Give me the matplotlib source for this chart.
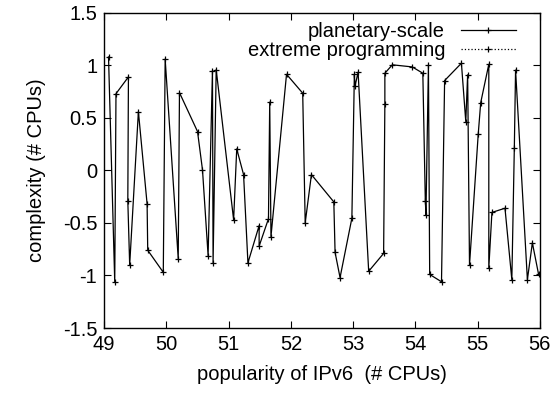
import matplotlib
matplotlib.use("Agg")
import matplotlib.pyplot as plt

plt.rcParams['font.family'] = ['Liberation Sans', 'DejaVu Sans']

# planetary-scale series
planetary_x = [49.07, 49.17, 49.19, 49.39, 49.38, 49.41, 49.55, 49.69, 49.70, 49.95,
               49.98, 50.19, 50.21, 50.50, 50.58, 50.67, 50.74, 50.75, 50.80, 51.08,
               51.13, 51.24, 51.31, 51.49, 51.49, 51.64, 51.66, 51.68, 51.93, 52.19,
               52.23, 52.33, 52.69, 52.71, 52.79, 52.98, 53.02, 53.03, 53.08, 53.25,
               53.49, 53.51, 53.51, 53.63, 53.95, 54.12, 54.16, 54.17, 54.21, 54.23,
               54.42, 54.47, 54.74, 54.81, 54.84, 54.87, 55.01, 55.05, 55.18, 55.18,
               55.23, 55.44, 55.55, 55.59, 55.61, 55.80, 55.88, 55.98]
planetary_y = [1.08, -1.06, 0.73, 0.89, -0.29, -0.90, 0.56, -0.32, -0.76, -0.97,
               1.06, -0.84, 0.74, 0.37, 0.005, -0.81, 0.95, -0.88, 0.96, -0.47,
               0.205, -0.04, -0.88, -0.525, -0.72, -0.46, 0.65, -0.63, 0.915, 0.735,
               -0.50, -0.04, -0.30, -0.78, -1.02, -0.455, 0.915, 0.80, 0.935, -0.96,
               -0.79, 0.63, 0.925, 1.005, 0.985, 0.925, -0.29, -0.42, 1.005, -0.99,
               -1.06, 0.855, 1.02, 0.465, 0.91, -0.90, 0.345, 0.645, 1.01, -0.93,
               -0.40, -0.36, -1.04, 0.21, 0.955, -1.04, -0.69, -0.99]

# extreme programming series: no visible points in the reference
extreme_x = []
extreme_y = []

xticks = [49, 50, 51, 52, 53, 54, 55, 56]
yticks = [-1.5, -1, -0.5, 0, 0.5, 1, 1.5]
ytick_labels = ['-1.5', '-1', '-0.5', '0', '0.5', '1', '1.5']

fs = 14.5

fig = plt.figure(figsize=(5.6, 3.94), dpi=100)
ax = fig.add_axes([0.186, 0.1675, 0.778, 0.8])

ax.plot(planetary_x, planetary_y, color='black', lw=0.9, marker='+', ms=4.5,
        mew=0.9, label='planetary-scale')
ax.plot(extreme_x, extreme_y, color='black', lw=0.9, ls=':', marker='+', ms=4.5,
        mew=0.9, label='extreme programming')

ax.set_xlim(49, 56)
ax.set_ylim(-1.5, 1.5)
ax.set_xticks(xticks)
ax.set_yticks(yticks)
ax.set_yticklabels(ytick_labels)
ax.tick_params(direction='in', top=True, right=True, labelsize=fs, length=5, pad=5)
for s in ax.spines.values():
    s.set_linewidth(1.0)

ax.set_xlabel('popularity of IPv6  (# CPUs)', fontsize=fs, labelpad=8)
ax.set_ylabel('complexity (# CPUs)', fontsize=fs, labelpad=12)

leg = ax.legend(loc='upper right', bbox_to_anchor=(0.972, 1.01), frameon=False,
                markerfirst=False, fontsize=fs, handlelength=2.7,
                labelspacing=0.0, handletextpad=0.8, borderaxespad=0.2)

fig.savefig('out.png', dpi=100)
